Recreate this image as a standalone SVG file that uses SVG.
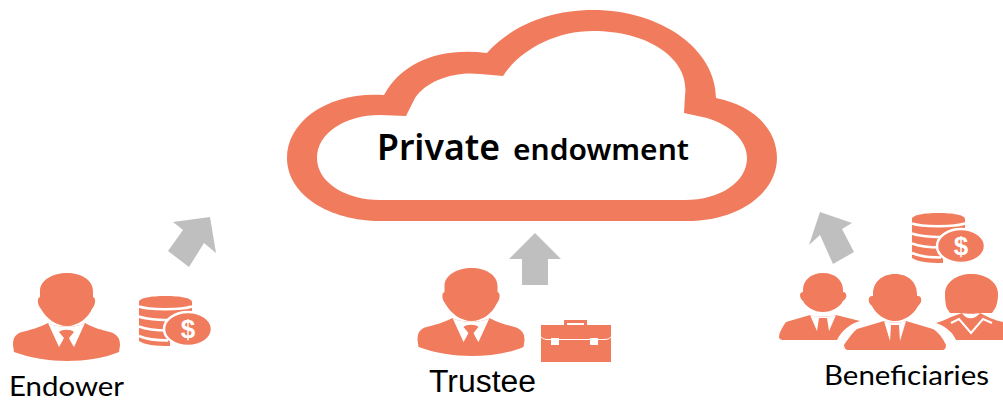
<svg xmlns="http://www.w3.org/2000/svg" xmlns:xlink="http://www.w3.org/1999/xlink" width="1003" height="401" viewBox="0 0 1003 401">
<style>
.o{fill:#F17C5D}
.w{fill:#fff}
.a{fill:#BFBFBF}
.l{font-family:Lato,"Liberation Sans",sans-serif;fill:#000}
.t{font-family:"Noto Sans","DejaVu Sans",sans-serif;font-weight:600;fill:#000}
.s{fill:none;stroke:#fff;stroke-width:2.500}
</style>
<defs>
<g id="man">
<path class="o" d="M67 273C81 273 93 280 93 291L93 297C96 298 96 304 92 309C88 318 78 326 67 326C56 326 46 318 41 309C37 304 37 298 40 297L40 291C40 280 53 273 67 273Z"/>
<path class="o" d="M48 323C38 328 30 330 22 332C15 334 13 338 13 345L14 352C30 358 50 361 67 361C85 361 105 358 119 352L120 345C120 338 117 334 110 332C102 330 94 328 85 323C78 328 56 328 48 323Z"/>
<path class="w" d="M48 323C56 328 78 328 85 323L74 347L66 335L59 347Z"/>
<path class="o" d="M59 332C62 329 71 329 74 332L69 338L74 349H59L64 338Z"/>
</g>
<g id="coins">
<path class="o" d="M139 302C139 298 151 296 165.500 296C180 296 192 298 192 302V335H170V346C155 346 145 345 139 341Z"/>
<path class="s" d="M139 306.500C148 310 182 310 192 306.500M139 316.500C148 320 170 320.500 180 319.500M139 326.500C148 330 160 330.500 168 330.500M139 336C148 340 160 340.500 168 340.500"/>
<ellipse class="o" cx="188" cy="329" rx="24" ry="17" stroke="#fff" stroke-width="2.500"/>
<text x="188" y="338" text-anchor="middle" font-family="'Liberation Sans',sans-serif" font-weight="700" font-size="26" fill="#fff">$</text>
</g>
</defs>
<g id="connectors">
<polygon class="a" points="173,222 210,217 216,253 204,243 189,267 168,251 183,230"/>
<polygon class="a" points="535,233 561,259 548,259 548,285 522,285 522,259 509,259"/>
<polygon class="a" points="820,212 852,223 842,229 854,252 833,264 820,235 809,245"/>
</g>
<g id="cloud">
<path class="o" fill-rule="evenodd" d="M380 221H687C740 221 777 192 777 158C777 128 752 105 716 98C716 50 662 10 593 10C548 10 510 27 487 53C440 47 402 62 384 95C330 91 287 120 287 158C287 195 330 221 380 221ZM380 200C345 200 317 182 317 158C317 133 345 115 380 115L406 116L415 98C427 80 455 71 480 74L503 76C520 50 555 31 593 31C650 31 690 60 685 95L684 113L707 118C730 125 747 140 747 158C747 182 720 200 685 200Z"/>
<text class="t" x="377" y="160" font-size="36" textLength="123" lengthAdjust="spacingAndGlyphs">Private</text>
<text class="t" x="513" y="160" font-size="28" textLength="176" lengthAdjust="spacingAndGlyphs">endowment</text>
</g>
<g id="endower">
<use xlink:href="#man" href="#man"/>
<use xlink:href="#coins" href="#coins"/>
<text class="l" x="9" y="396" font-size="26" textLength="115" lengthAdjust="spacingAndGlyphs">Endower</text>
</g>
<g id="trustee">
<use xlink:href="#man" href="#man" transform="translate(404.500 -5)"/>
<rect class="o" x="541" y="325" width="70" height="37"/>
<path class="o" d="M564 326V320H587V326H584V323H567V326Z"/>
<path d="M541 337C543 339 545 339.500 548 339.500H604C607 339.500 609 339 611 337" fill="none" stroke="#fff" stroke-width="1"/>
<rect class="w" x="551" y="338" width="8" height="7"/>
<rect class="w" x="590" y="338" width="8" height="7"/>
<text x="429" y="392" font-family="'Liberation Sans',sans-serif" font-size="31" textLength="107" lengthAdjust="spacingAndGlyphs" fill="#000">Trustee</text>
</g>
<g id="beneficiaries">
<use xlink:href="#coins" href="#coins" transform="translate(773 -83)"/>
<path class="o" d="M823 273C836 273 843 281 843 290V292C847 292 848 298 843 301C840 307 832 312 823 312C814 312 806 307 803 301C799 298 799 292 803 292V290C803 281 810 273 823 273Z"/>
<path class="o" d="M810 315L786 322C783 326 779 333 779 337C779 339 781 340 783 340H837C842 330 850 324 860 321L836 315C832 317 814 317 810 315Z"/>
<path class="w" d="M810 315C814 317 832 317 836 315L829 331L827 318H819L817 331Z"/>
<path class="o" d="M895 274C909 274 917 283 917 294V296C922 295 923 302 918 306C914 314 905 321 895 321C885 321 876 314 872 306C867 302 868 295 873 296V294C873 283 881 274 895 274Z"/>
<path class="o" d="M884 321L857 329C852 333 846 342 844 345C844 348 846 350 848 350H942C945 350 946 348 946 345C943 338 938 332 933 329L906 321C902 323 888 323 884 321Z"/>
<path class="w" d="M884 321C888 323 902 323 906 321L900 341L899 325H891L890 341Z"/>
<path class="o" d="M971 274C986 274 998 282 998 294C998 302 996 308 994 310L992 313H980C977 314 965 314 962 313H950L948 310C946 308 945 302 945 294C945 282 957 274 971 274Z"/>
<path class="o" d="M936 323C940 322 945 320 951 317L962 313C966 320 975 320 980 313L990 318C995 320 999 321 1003 322V340H956C953 333 947 327 936 323Z"/>
<path d="M951 323L959 319L971 333L983 319L992 323" fill="none" stroke="#fff" stroke-width="2"/>
<text class="l" x="824" y="385" font-size="27" textLength="165" lengthAdjust="spacingAndGlyphs">Beneficiaries</text>
</g>
</svg>
